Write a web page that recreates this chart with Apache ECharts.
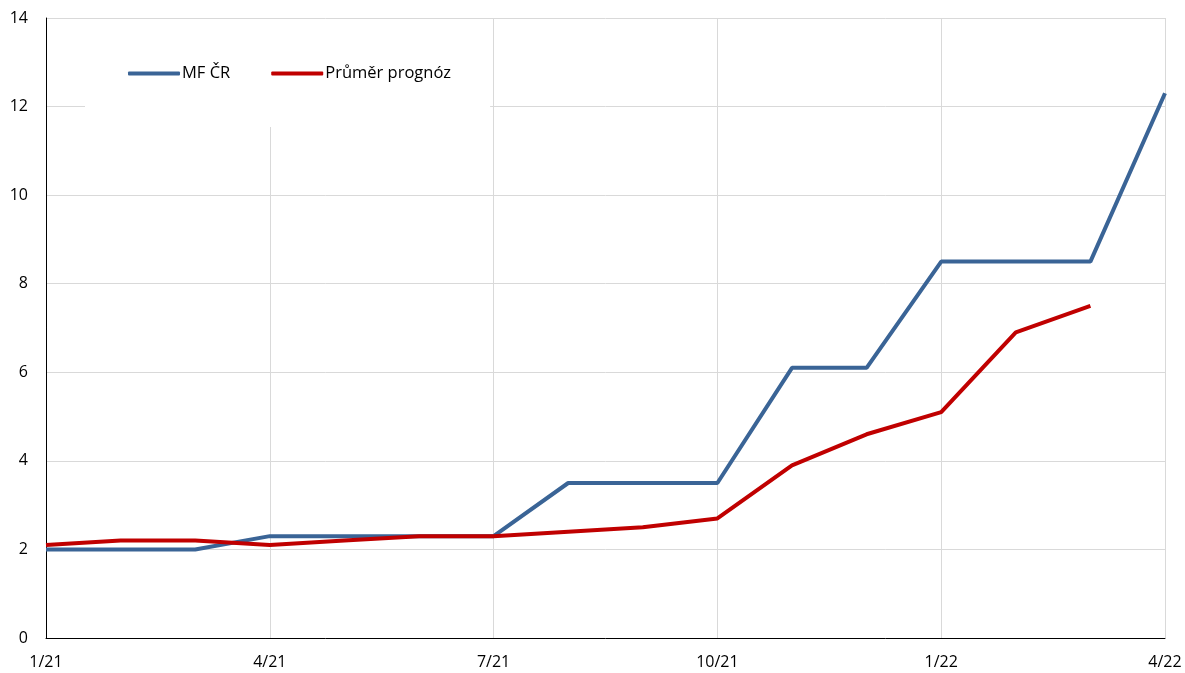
<!DOCTYPE html>
<html>
<head>
<meta charset="utf-8">
<script src="https://cdn.jsdelivr.net/npm/echarts@6/dist/echarts.min.js"></script>
<style>
  html, body { margin: 0; padding: 0; background: #fff; }
  #chart { width: 1185px; height: 673px; }
</style>
</head>
<body>
<div id="chart"></div>
<script>
// months 1/21 .. 4/22
var months = ["1/21", "2/21", "3/21", "4/21", "5/21", "6/21", "7/21", "8/21", "9/21",
  "10/21", "11/21", "12/21", "1/22", "2/22", "3/22", "4/22"];
var mfcr = [2.0, 2.0, 2.0, 2.3, 2.3, 2.3, 2.3, 3.5, 3.5, 3.5, 6.1, 6.1, 8.5, 8.5, 8.5, 12.3];
var prumer = [2.1, 2.2, 2.2, 2.1, 2.2, 2.3, 2.3, 2.4, 2.5, 2.7, 3.9, 4.6, 5.1, 6.9, 7.5, null];

var fontFam = "'Open Sans', 'Noto Sans', sans-serif";

var myChart = echarts.init(document.getElementById("chart"));
var option = {
  animation: false,
  grid: { left: 46, right: 20, top: 18, bottom: 35 },
  legend: {
    left: 85,
    top: 19,
    padding: [46, 39, 45, 43],
    backgroundColor: "#fff",
    itemWidth: 52,
    itemHeight: 4,
    itemGap: 41,
    icon: "roundRect",
    textStyle: { fontFamily: fontFam, fontSize: 16.5, color: "#000", padding: [0, 0, 0, -3] },
    data: ["MF ČR", "Průměr prognóz"]
  },
  xAxis: {
    type: "category",
    boundaryGap: false,
    data: months,
    axisLine: { lineStyle: { color: "#000", width: 1 } },
    axisTick: { show: false },
    axisLabel: { interval: 2, fontFamily: fontFam, fontSize: 16, color: "#000", margin: 16 },
    splitLine: { show: true, interval: 2, lineStyle: { color: "#d9d9d9" } }
  },
  yAxis: {
    type: "value",
    min: 0,
    max: 14,
    interval: 2,
    axisLine: { show: true, lineStyle: { color: "#000", width: 1 } },
    axisTick: { show: false },
    axisLabel: { fontFamily: fontFam, fontSize: 16, color: "#000", margin: 18 },
    splitLine: { lineStyle: { color: "#d9d9d9" } }
  },
  series: [
    {
      name: "MF ČR",
      type: "line",
      data: mfcr,
      showSymbol: false,
      color: "#3a6496",
      lineStyle: { width: 4, color: "#3a6496" }
    },
    {
      name: "Průměr prognóz",
      type: "line",
      data: prumer,
      showSymbol: false,
      color: "#c00000",
      lineStyle: { width: 4, color: "#c00000" }
    }
  ]
};
option && myChart.setOption(option);
</script>
</body>
</html>
